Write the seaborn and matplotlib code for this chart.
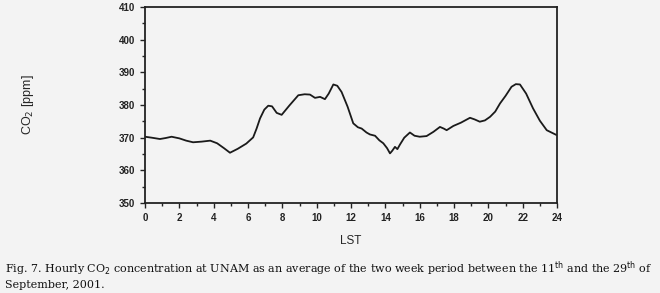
import numpy as np
import matplotlib
matplotlib.use('Agg')
import matplotlib.pyplot as plt
import seaborn as sns
from matplotlib.ticker import MultipleLocator

# Hourly CO2 at UNAM
hours = [0.0, 0.4, 0.87, 1.2, 1.55, 2.0, 2.4, 2.8, 3.3, 3.8, 4.2, 4.6, 4.95,
         5.4, 5.9, 6.3, 6.5, 6.7, 6.95, 7.18, 7.4, 7.67, 7.96, 8.4, 8.93,
         9.3, 9.61, 9.9, 10.2, 10.48, 10.7, 10.97, 11.2, 11.45, 11.8, 12.13,
         12.4, 12.62, 12.9, 13.1, 13.4, 13.65, 13.88, 14.1, 14.27, 14.4,
         14.56, 14.7, 14.85, 15.1, 15.43, 15.7, 16.0, 16.4, 16.8, 17.18,
         17.4, 17.57, 17.96, 18.4, 18.93, 19.2, 19.5, 19.8, 20.1, 20.4,
         20.68, 21.0, 21.35, 21.6, 21.84, 22.2, 22.6, 23.0, 23.4, 23.98]
co2 = [370.3, 370.0, 369.6, 369.9, 370.3, 369.8, 369.1, 368.6, 368.8, 369.1,
       368.3, 366.8, 365.4, 366.6, 368.2, 370.1, 372.8, 375.9, 378.6, 379.8,
       379.6, 377.6, 377.0, 379.8, 383.0, 383.3, 383.2, 382.2, 382.5, 381.8,
       383.5, 386.3, 385.9, 384.0, 379.5, 374.4, 373.2, 372.8, 371.6, 371.0,
       370.6, 369.2, 368.3, 366.8, 365.2, 366.0, 367.2, 366.5, 367.9, 370.0,
       371.6, 370.6, 370.3, 370.5, 371.8, 373.3, 372.8, 372.3, 373.6, 374.6,
       376.1, 375.6, 374.9, 375.3, 376.4, 378.0, 380.5, 382.8, 385.6, 386.4,
       386.3, 383.5, 379.0, 375.2, 372.3, 370.8]

bg = '#f3f3f3'
sns.set_style('ticks')
plt.rcParams['font.family'] = ['Liberation Sans', 'DejaVu Sans']

fig = plt.figure(figsize=(6.6, 2.93), dpi=100, facecolor=bg)
ax = fig.add_axes([0.2197, 0.307, 0.6243, 0.669], facecolor=bg)

sns.lineplot(x=hours, y=co2, ax=ax, color='#1a1a1a', linewidth=1.3, sort=False)

ax.set_xlim(0, 24)
ax.set_ylim(350, 410)
ax.xaxis.set_major_locator(MultipleLocator(2))
ax.xaxis.set_minor_locator(MultipleLocator(1))
ax.yaxis.set_major_locator(MultipleLocator(10))
ax.yaxis.set_minor_locator(MultipleLocator(5))
ax.tick_params(which='both', direction='out', colors='#222222', width=1.0, labelsize=7)
ax.tick_params(which='major', length=3.5)
ax.tick_params(which='minor', length=2)
for lab in ax.get_xticklabels() + ax.get_yticklabels():
    lab.set_fontweight('bold')
for s in ax.spines.values():
    s.set_visible(True)
    s.set_linewidth(1.3)
    s.set_color('#222222')

ax.set_xlabel('LST', fontsize=8.5, labelpad=9)
ax.set_ylabel('CO$_2$ [ppm]', fontsize=9, labelpad=60)

fig.text(0.008, 0.07,
         'Fig. 7. Hourly CO$_2$ concentration at UNAM as an average of the two week period between the 11$^{\\rm th}$ and the 29$^{\\rm th}$ of',
         family='DejaVu Serif', fontsize=8.05, color='#111111')
fig.text(0.008, 0.018, 'September, 2001.', family='DejaVu Serif', fontsize=8.05, color='#111111')

fig.savefig('out.png', dpi=100, facecolor=bg)
